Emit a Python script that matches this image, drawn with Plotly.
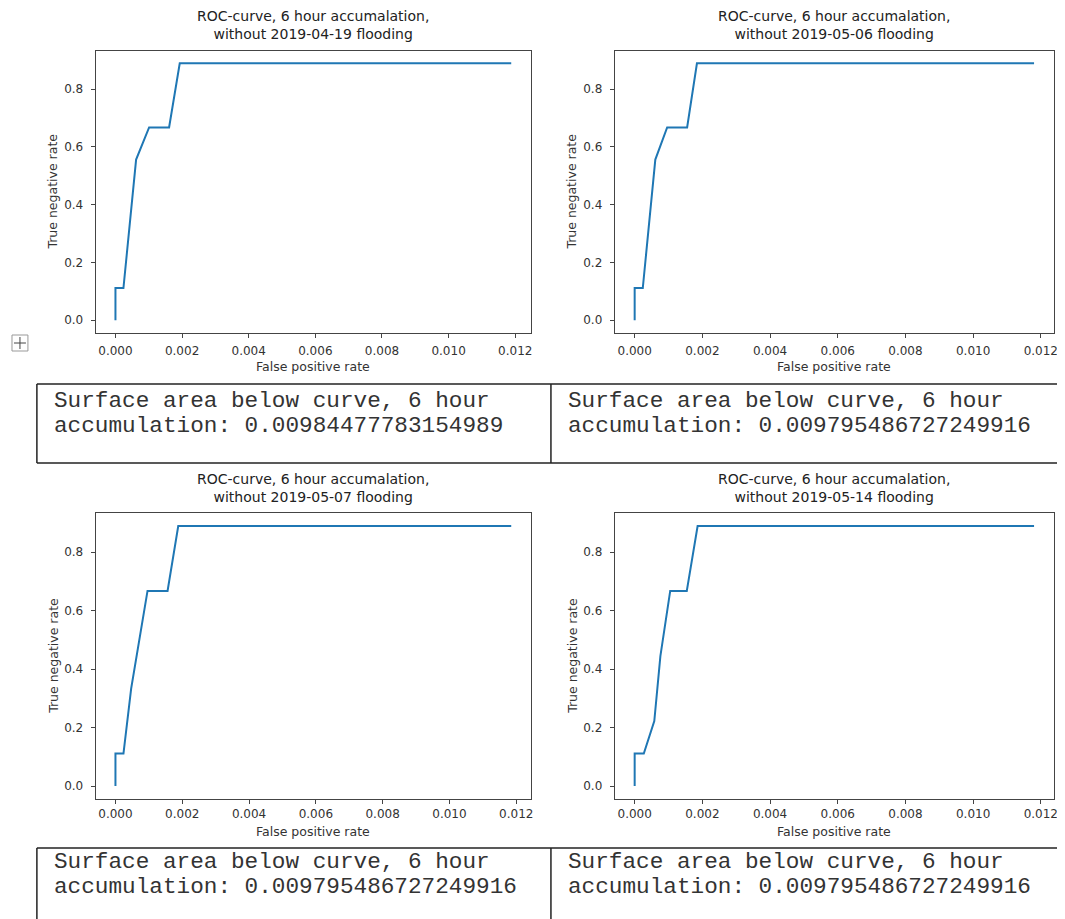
import plotly.graph_objects as go

# ---- data ----
flood_dates = ["2019-04-19", "2019-05-06", "2019-05-07", "2019-05-14"]

fpr_0419 = [0.0, 0.0, 0.00024, 0.00062, 0.00101, 0.00161, 0.00193, 0.01188]
tpr_0419 = [0.0, 0.111, 0.111, 0.556, 0.667, 0.667, 0.889, 0.889]

fpr_0506 = [0.0, 0.0, 0.00024, 0.00061, 0.00096, 0.00155, 0.00184, 0.01180]
tpr_0506 = [0.0, 0.111, 0.111, 0.556, 0.667, 0.667, 0.889, 0.889]

fpr_0507 = [0.0, 0.0, 0.00024, 0.00047, 0.00096, 0.00156, 0.00188, 0.01185]
tpr_0507 = [0.0, 0.111, 0.111, 0.333, 0.667, 0.667, 0.889, 0.889]

fpr_0514 = [0.0, 0.0, 0.00027, 0.00058, 0.00076, 0.00105, 0.00154, 0.00186, 0.01180]
tpr_0514 = [0.0, 0.111, 0.111, 0.222, 0.444, 0.667, 0.667, 0.889, 0.889]

auc_values = ["0.00984477783154989", "0.009795486727249916",
              "0.009795486727249916", "0.009795486727249916"]

x_ticks = [0.0, 0.002, 0.004, 0.006, 0.008, 0.010, 0.012]
y_ticks = [0.0, 0.2, 0.4, 0.6, 0.8]

series = [(fpr_0419, tpr_0419), (fpr_0506, tpr_0506),
          (fpr_0507, tpr_0507), (fpr_0514, tpr_0514)]

# ---- geometry: screen pixels; the page body has an 8px margin ----
OFF = 8
PW, PH = 1065 - OFF, 919 - OFF


def px(x):
    return (x - OFF) / PW


def py(y):
    return 1 - (y - OFF) / PH


frames = [  # x0, x1, y0(top), y1(bottom), tick standoff, xlabel offset
    (96, 533, 50.5, 333, 3, 34),
    (617, 1058, 50.5, 333, 3, 34),
    (96, 533, 513, 799, 0, 32),
    (617, 1058, 513, 799, 0, 32),
]

fig = go.Figure()
layout = dict(
    width=PW, height=PH, autosize=False,
    margin=dict(l=0, r=0, t=0, b=0),
    paper_bgcolor="white", plot_bgcolor="white",
    showlegend=False,
    font=dict(family="DejaVu Sans", color="#333"),
)

annotations = []
shapes = []

TICK_FONT = dict(family="DejaVu Sans", size=12, color="#333")


def pad_range(vals):
    lo, hi = min(vals), max(vals)
    span = hi - lo
    return [lo - 0.05 * span, hi + 0.05 * span]


for i, ((fx, ty), (x0, x1, y0, y1, so, xl)) in enumerate(zip(series, frames)):
    n = "" if i == 0 else str(i + 1)
    xa, ya = "x" + n, "y" + n
    fig.add_trace(go.Scatter(x=fx, y=ty, mode="lines",
                             line=dict(color="#1f77b4", width=2),
                             xaxis=xa, yaxis=ya, hoverinfo="skip"))
    common = dict(showgrid=False, zeroline=False, showline=True, mirror=True,
                  linecolor="#444", linewidth=1, ticks="outside", ticklen=4,
                  tickcolor="#444", tickwidth=1, tickfont=TICK_FONT)
    layout["xaxis" + n] = dict(
        domain=[px(x0), px(x1)], anchor=ya, range=pad_range(fx),
        tickvals=x_ticks, ticktext=[f"{v:.3f}" for v in x_ticks],
        ticklabelstandoff=so, **common)
    layout["yaxis" + n] = dict(
        domain=[py(y1), py(y0)], anchor=xa, range=pad_range(ty),
        tickvals=y_ticks, ticktext=[f"{v:.1f}" for v in y_ticks],
        ticklabelstandoff=5, **common)
    cx = (x0 + x1) / 2
    annotations.append(dict(
        x=px(cx), y=py(y0 - 6), xref="paper", yref="paper",
        xanchor="center", yanchor="bottom", showarrow=False,
        text=f"ROC-curve, 6 hour accumalation,<br>without {flood_dates[i]} flooding",
        font=dict(family="DejaVu Sans", size=14, color="#222")))
    annotations.append(dict(
        x=px(cx), y=py(y1 + xl), xref="paper", yref="paper",
        xanchor="center", yanchor="middle", showarrow=False,
        text="False positive rate",
        font=dict(family="DejaVu Sans", size=12.5, color="#333")))
    annotations.append(dict(
        x=px(x0 - 43), y=py((y0 + y1) / 2), xref="paper", yref="paper",
        xanchor="center", yanchor="middle", showarrow=False, textangle=-90,
        text="True negative rate",
        font=dict(family="DejaVu Sans", size=12.5, color="#333")))

# ---- text tables ----
BORDER = dict(color="#222", width=1.5)


def hline(x0, x1, y):
    shapes.append(dict(type="line", xref="paper", yref="paper",
                       x0=px(x0), x1=px(x1), y0=py(y), y1=py(y), line=BORDER))


def vline(x, y0, y1):
    shapes.append(dict(type="line", xref="paper", yref="paper",
                       x0=px(x), x1=px(x), y0=py(y0), y1=py(y1), line=BORDER))


hline(37, 1066, 384)
hline(37, 1066, 463)
vline(37, 384, 463)
vline(553, 384, 463)
hline(37, 1066, 848)
vline(37, 848, 920)
vline(553, 848, 920)

MONO = dict(family="Courier New, Liberation Mono, monospace", size=22.7, color="#333")
cells = [(52, 401, auc_values[0]), (568, 401, auc_values[1]),
         (52, 862, auc_values[2]), (568, 862, auc_values[3])]
for (tx, ty, val) in cells:
    annotations.append(dict(x=px(tx), y=py(ty), xref="paper", yref="paper",
                            xanchor="left", yanchor="middle", showarrow=False,
                            text="Surface area below curve, 6 hour", font=MONO))
    annotations.append(dict(x=px(tx), y=py(ty + 24.5), xref="paper", yref="paper",
                            xanchor="left", yanchor="middle", showarrow=False,
                            text="accumulation: " + val, font=MONO))

# ---- move handle icon ----
ix, iy, s = 20, 343, 8
shapes.append(dict(type="rect", xref="paper", yref="paper",
                   x0=px(ix - s), x1=px(ix + s), y0=py(iy + s), y1=py(iy - s),
                   line=dict(color="#999", width=1), fillcolor="white"))
shapes.append(dict(type="line", xref="paper", yref="paper",
                   x0=px(ix - 6), x1=px(ix + 6), y0=py(iy), y1=py(iy),
                   line=dict(color="#444", width=1)))
shapes.append(dict(type="line", xref="paper", yref="paper",
                   x0=px(ix), x1=px(ix), y0=py(iy - 6), y1=py(iy + 6),
                   line=dict(color="#444", width=1)))

layout["annotations"] = annotations
layout["shapes"] = shapes
fig.update_layout(**layout)

fig.write_html("out.html", config={"displayModeBar": False})
